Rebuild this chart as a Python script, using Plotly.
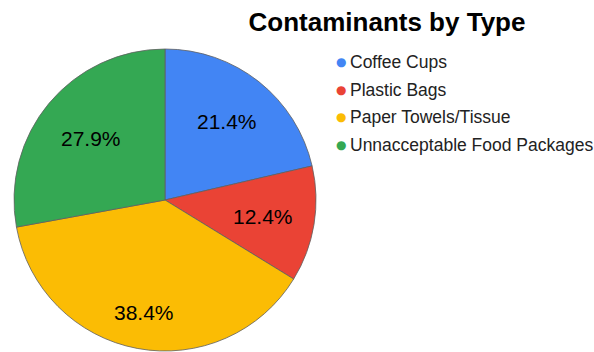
import math
import plotly.graph_objects as go

categories = ["Coffee Cups", "Plastic Bags", "Paper Towels/Tissue", "Unnacceptable Food Packages"]
values = [21.4, 12.4, 38.4, 27.9]
colors = ["#4285F4", "#EA4335", "#FBBC04", "#34A853"]

# layout constants (pixels)
W, H = 594, 352
cx, cy, r = 165, 200, 151
label_radius = [0.66, 0.66, 0.76, 0.64]
FONT = "Liberation Sans, Arial, sans-serif"

fig = go.Figure()
fig.add_trace(go.Pie(
    labels=categories, values=values, sort=False, direction="clockwise", rotation=0,
    marker=dict(colors=colors, line=dict(color="#5f5f5f", width=0.8)),
    textinfo="none", showlegend=False, hoverinfo="label+percent",
    domain=dict(x=[(cx - r) / W, (cx + r) / W], y=[1 - (cy + r) / H, 1 - (cy - r) / H]),
))

annotations = []
total = sum(values)
cum = 0.0
for v, fr in zip(values, label_radius):
    mid = (cum + v / 2) / total * 2 * math.pi
    cum += v
    px = cx + fr * r * math.sin(mid)
    py = cy - fr * r * math.cos(mid)
    annotations.append(dict(
        x=px / W, y=1 - py / H, xref="paper", yref="paper", showarrow=False,
        text=f"{v / total * 100:.1f}%", xanchor="center", yanchor="middle",
        font=dict(family=FONT, size=21, color="#000000"),
    ))

# legend drawn as annotations (circle + label)
leg_x, leg_y0, leg_dy = 341, 62, 27.5
for i, (name, c) in enumerate(zip(categories, colors)):
    y = 1 - (leg_y0 + i * leg_dy) / H
    annotations.append(dict(x=leg_x / W, y=y, xref="paper", yref="paper", showarrow=False,
                            text="●", xanchor="center", yanchor="middle",
                            font=dict(family="DejaVu Sans", size=12, color=c)))
    annotations.append(dict(x=(leg_x + 7) / W, y=y, xref="paper", yref="paper", showarrow=False,
                            text=name, xanchor="left", yanchor="middle",
                            font=dict(family=FONT, size=17.5, color="#222222")))

fig.update_layout(
    width=W, height=H, margin=dict(l=0, r=0, t=0, b=0),
    paper_bgcolor="white", plot_bgcolor="white",
    title=dict(text="<b>Contaminants by Type</b>", x=387 / W, xanchor="center",
               y=1 - 22 / H, yanchor="middle",
               font=dict(family=FONT, size=26, color="#000000")),
    annotations=annotations,
)
fig.write_html("out.html", config={"displayModeBar": False},
               post_script="document.body.style.margin='0';document.body.style.overflow='hidden';")
